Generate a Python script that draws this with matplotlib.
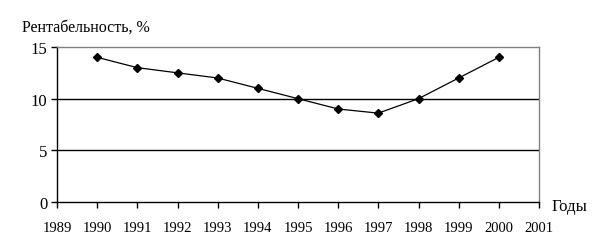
import matplotlib.pyplot as plt

years = [1990, 1991, 1992, 1993, 1994, 1995, 1996, 1997, 1998, 1999, 2000]
profit = [14, 13, 12.5, 12, 11, 10, 9, 8.6, 10, 12, 14]
x_ticks = list(range(1989, 2002))
y_ticks = [0, 5, 10, 15]

plt.rcParams['font.family'] = ['Liberation Serif', 'DejaVu Serif']

fig = plt.figure(figsize=(6.01, 2.51), dpi=100)
ax = fig.add_axes([57 / 601, 1 - 203 / 251, (539 - 57) / 601, (203 - 48) / 251])

for y in [5, 10]:
    ax.axhline(y, color="black", lw=1, zorder=1)

ax.plot(years, profit, color="black", lw=0.9, marker="D", markersize=4.5, zorder=3)

ax.set_xlim(1989, 2001)
ax.set_ylim(0, 15)
ax.set_xticks(x_ticks)
ax.set_yticks(y_ticks)
ax.tick_params(direction="out", length=4, width=1, color="black")
ax.tick_params(axis="x", labelsize=10.5, pad=10)
ax.tick_params(axis="y", labelsize=12, pad=3)

for side in ["top", "right"]:
    ax.spines[side].set_color("#808080")
    ax.spines[side].set_linewidth(1)
for side in ["left", "bottom"]:
    ax.spines[side].set_color("black")
    ax.spines[side].set_linewidth(1)

fig.text(22 / 601, 1 - 28 / 251, "Рентабельность, %", fontsize=11.5, va="center", ha="left")
fig.text(552 / 601, 1 - 207 / 251, "Годы", fontsize=12, va="center", ha="left")

fig.savefig("out.png", dpi=100)
